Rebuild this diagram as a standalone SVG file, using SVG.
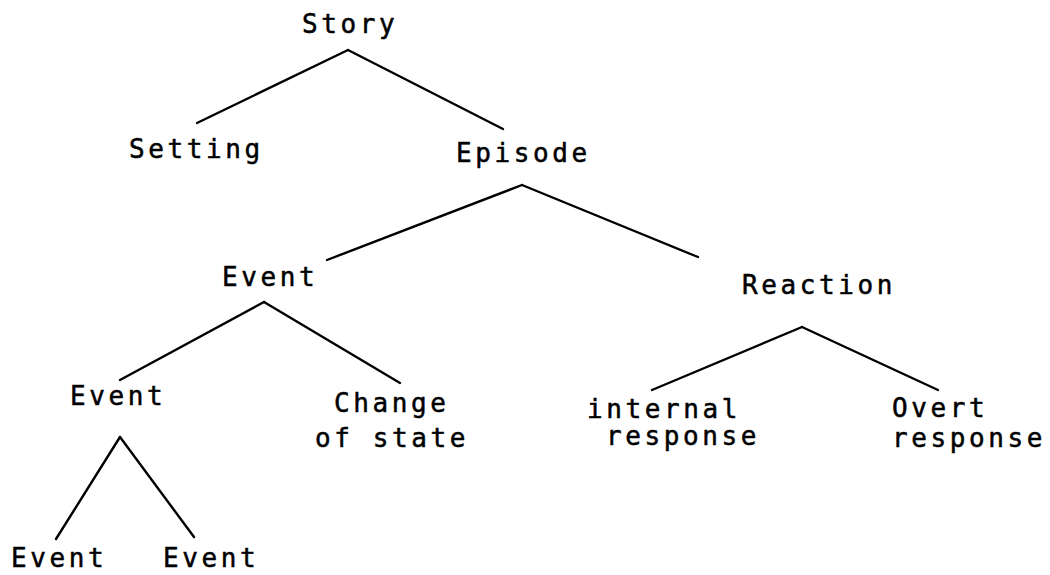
<svg xmlns="http://www.w3.org/2000/svg" width="1050" height="575" viewBox="0 0 1050 575">
<style>
text{font-family:"DejaVu Sans Mono","Liberation Mono",monospace;font-size:26px;letter-spacing:3.6px;fill:#000;stroke:#000;stroke-width:0.5}
.c line{stroke:#000;stroke-width:2.4;stroke-linecap:round}
</style>
<rect width="1050" height="575" fill="#fff"/>
<g class="c" id="connectors">
<line x1="348" y1="50" x2="197" y2="123"/>
<line x1="348" y1="50" x2="503" y2="129"/>
<line x1="522" y1="185" x2="327" y2="260"/>
<line x1="522" y1="185" x2="698" y2="257"/>
<line x1="264" y1="302" x2="120" y2="380"/>
<line x1="264" y1="302" x2="400" y2="383"/>
<line x1="120" y1="437" x2="56" y2="539"/>
<line x1="120" y1="437" x2="194" y2="537"/>
<line x1="802" y1="327" x2="652" y2="390"/>
<line x1="802" y1="327" x2="938" y2="390"/>
</g>
<g id="story"><text x="302" y="33">Story</text></g>
<g id="setting"><text x="129" y="158">Setting</text></g>
<g id="episode"><text x="456" y="162">Episode</text></g>
<g id="event1"><text x="222" y="286">Event</text></g>
<g id="reaction"><text x="742" y="294">Reaction</text></g>
<g id="event2"><text x="70" y="405">Event</text></g>
<g id="change"><text x="334" y="412">Change</text><text x="315" y="447">of state</text></g>
<g id="internal"><text x="587" y="418">internal</text><text x="606" y="445">response</text></g>
<g id="overt"><text x="892" y="417">Overt</text><text x="892" y="447">response</text></g>
<g id="event3"><text x="11" y="567">Event</text></g>
<g id="event4"><text x="163" y="567">Event</text></g>
</svg>
